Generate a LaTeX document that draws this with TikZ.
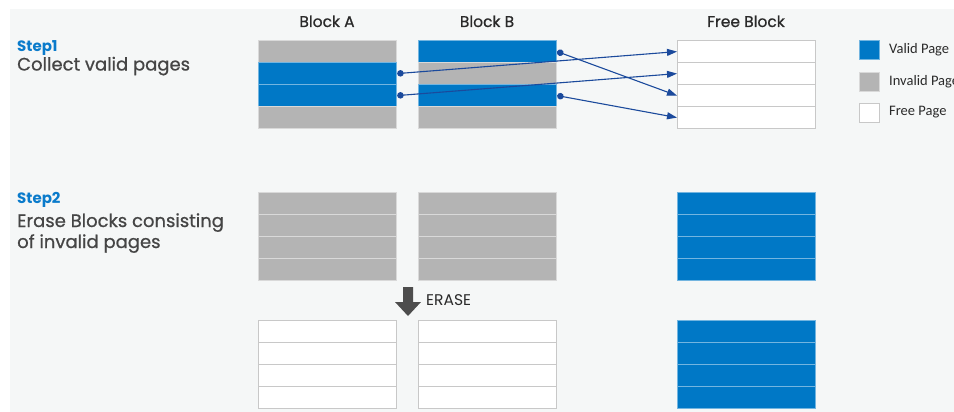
\documentclass[tikz,border=0pt]{standalone}
\usepackage{fontspec}
\setmainfont{Poppins}
\newfontfamily\medfont[FakeBold=0.7]{Poppins}
\newfontfamily\legendfont{Carlito}
\usetikzlibrary{arrows.meta}
\definecolor{bgc}{HTML}{F5F7F7}
\definecolor{validc}{HTML}{0078C6}
\definecolor{invalidc}{HTML}{B4B4B4}
\definecolor{freeborder}{HTML}{C8C8C8}
\definecolor{stepc}{HTML}{0A7BCB}
\definecolor{txtc}{HTML}{454545}
\definecolor{arrc}{HTML}{1B4A9C}
\definecolor{erasec}{HTML}{4D4D4D}
\definecolor{titlec}{HTML}{2A2A2A}
\tikzset{
  page/.style={rectangle, anchor=north west, inner sep=0pt, minimum width=138pt, minimum height=22pt, line width=1.2pt},
  vpage/.style={page, fill=validc, draw=validc!55!white},
  ipage/.style={page, fill=invalidc, draw=invalidc!50!white},
  fpage/.style={page, fill=white, draw=freeborder},
  legbox/.style={rectangle, anchor=north west, inner sep=0pt, minimum width=20pt, minimum height=19pt, line width=1pt},
  legtxt/.style={anchor=west, inner sep=0pt, font=\legendfont\fontsize{14.5}{16}\selectfont, text=titlec},
  coltitle/.style={anchor=base, inner sep=0pt, font=\medfont\fontsize{15.5}{18}\selectfont, text=titlec},
  steptitle/.style={anchor=base west, inner sep=0pt, font=\bfseries\fontsize{15}{18}\selectfont, text=stepc},
  steptxt/.style={anchor=base west, inner sep=0pt, font=\medfont\fontsize{18}{20}\selectfont, text=txtc},
  mv/.style={arrc, line width=1.1pt, {Circle[length=6.5pt]}-{Triangle[length=10pt,width=7pt]}}
}
\begin{document}
\begin{tikzpicture}[x=1pt,y=-1pt]
\useasboundingbox (0,0) rectangle (954,412);
\fill[white] (0,0) rectangle (954,412);
\fill[bgc] (10,9) rectangle (954,412);

% titles
\node[coltitle] (tA) at (327,27) {Block A};
\node[coltitle] (tB) at (487,27) {Block B};
\node[coltitle] (tF) at (746,27) {Free Block};

% step 1 text
\node[steptitle] (s1) at (17,52) {Step1};
\node[steptxt] (s1t) at (17,70.5) {Collect valid pages};

% step 1 blocks
\node[ipage] (A1) at (258,40) {};
\node[vpage] (A2) at (258,62) {};
\node[vpage] (A3) at (258,84) {};
\node[ipage] (A4) at (258,106) {};
\node[vpage] (B1) at (418,40) {};
\node[ipage] (B2) at (418,62) {};
\node[vpage] (B3) at (418,84) {};
\node[ipage] (B4) at (418,106) {};
\node[fpage] (F1) at (677,40) {};
\node[fpage] (F2) at (677,62) {};
\node[fpage] (F3) at (677,84) {};
\node[fpage] (F4) at (677,106) {};

% moves
\draw[mv] (A2.east) -- (F1.west);
\draw[mv] (A3.east) -- (F2.west);
\draw[mv] (B1.east) -- (F3.west);
\draw[mv] (B3.east) -- (F4.west);

% legend
\node[legbox, fill=validc, draw=validc!55!white] (L1) at (859,40) {};
\node[legbox, fill=invalidc, draw=invalidc!50!white] (L2) at (859,72) {};
\node[legbox, fill=white, draw=freeborder] (L3) at (859,103) {};
\node[legtxt] (L1t) at (889,49.5) {Valid Page};
\node[legtxt] (L2t) at (889,81.5) {Invalid Page};
\node[legtxt] (L3t) at (889,112.5) {Free Page};

% step 2 text
\node[steptitle] (s2) at (17,203) {Step2};
\node[steptxt] (s2t) at (17,227) {Erase Blocks consisting};
\node[steptxt] (s2u) at (17,248) {of invalid pages};

% step 2 before
\foreach \i/\y in {1/192,2/214,3/236,4/258}{
  \node[ipage] (CA\i) at (258,\y) {};
  \node[ipage] (CB\i) at (418,\y) {};
  \node[vpage] (CF\i) at (677,\y) {};
}
% erase arrow
\fill[erasec] (403,287) -- (413,287) -- (413,302) -- (421,302) -- (408,316) -- (395,302) -- (403,302) -- cycle;
\node[anchor=west, inner sep=0pt, font=\fontsize{15.5}{18}\selectfont, text=titlec] (er) at (426,300) {ERASE};

% step 2 after
\foreach \i/\y in {1/320,2/342,3/364,4/386}{
  \node[fpage] (DA\i) at (258,\y) {};
  \node[fpage] (DB\i) at (418,\y) {};
  \node[vpage] (DF\i) at (677,\y) {};
}
\end{tikzpicture}
\end{document}
